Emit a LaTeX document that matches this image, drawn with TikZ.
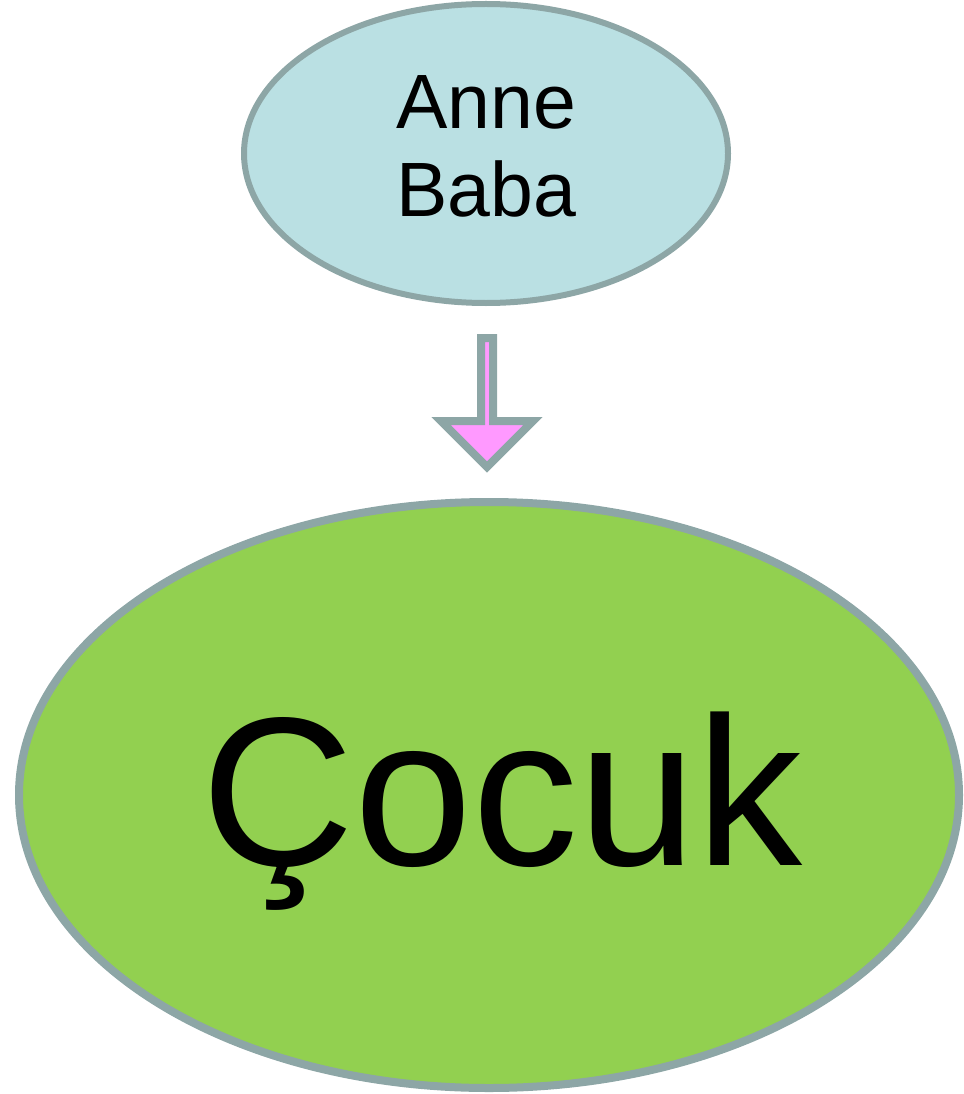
\documentclass[tikz,border=0pt]{standalone}
\usepackage{fontspec}
\setmainfont{Liberation Sans}
\usetikzlibrary{shapes.geometric,calc}
\definecolor{rim}{RGB}{141,166,166}
\definecolor{parentfill}{RGB}{186,224,227}
\definecolor{childfill}{RGB}{146,208,80}
\definecolor{arrowfill}{RGB}{255,153,255}
\begin{document}
\begin{tikzpicture}[x=1pt,y=-1pt,
  blob/.style={ellipse,draw=rim,inner sep=0pt}]
\useasboundingbox (0,0) rectangle (963,1094);
\node[blob,line width=6pt,fill=parentfill,minimum width=484pt,minimum height=299pt] (parent) at (486,153.5) {};
\node[blob,line width=8pt,fill=childfill,minimum width=940pt,minimum height=586pt] (child) at (489,795) {};
\node[anchor=center,align=center,font=\fontsize{77}{88}\selectfont,inner sep=0pt] (ptext) at (486,146.5) {Anne\\Baba};
\node[anchor=base,font=\fontsize{212}{240}\selectfont,inner sep=0pt] (ctext) at (502,865) {Çocuk};
\coordinate (atop) at ($(parent.south)+(1,32)$);
\coordinate (atip) at ($(child.north)+(-2,-31)$);
\draw[draw=rim,fill=arrowfill,line width=8pt,miter limit=10]
  ($(atop)+(-6,0)$) -- ($(atip)+(-6,-46)$) -- ($(atip)+(-46,-46)$) -- (atip)
  -- ($(atip)+(46,-46)$) -- ($(atip)+(6,-46)$) -- ($(atop)+(6,0)$) -- cycle;
\end{tikzpicture}
\end{document}
